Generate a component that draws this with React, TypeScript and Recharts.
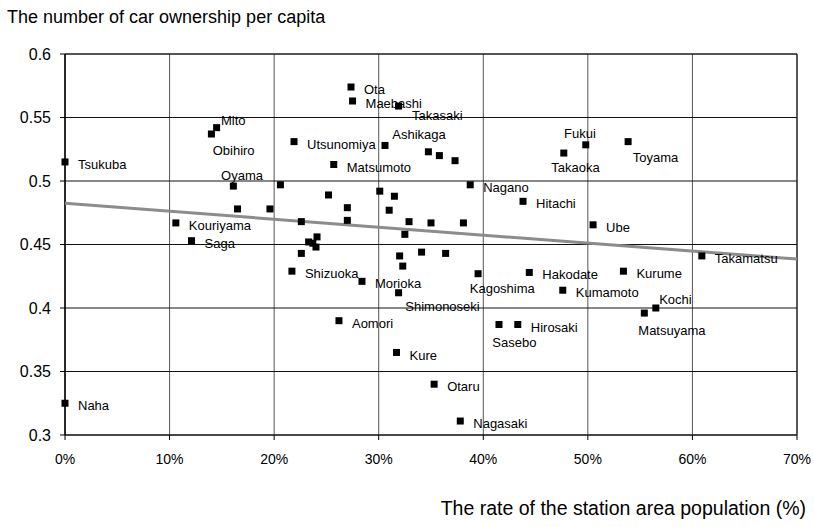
import { ScatterChart, Scatter, XAxis, YAxis, CartesianGrid, ReferenceLine } from 'recharts';

// city labels ('' = unlabelled point)
const CITIES = [
  'Tsukuba', 'Naha', 'Kouriyama', 'Saga', 'Obihiro', 'Mito', 'Oyama', '', '', '',
  'Utsunomiya', 'Shizuoka', '', '', '', '', '', '', '', 'Matsumoto',
  'Aomori', '', '', 'Ota', 'Maebashi', 'Morioka', '', 'Ashikaga', '', '',
  'Takasaki', 'Shimonoseki', 'Kure', '', '', '', '', '', '', '',
  'Otaru', '', '', '', 'Nagasaki', '', 'Nagano', 'Kagoshima', 'Sasebo', 'Hirosaki',
  'Hitachi', 'Hakodate', 'Kumamoto', 'Takaoka', 'Fukui', 'Ube', 'Kurume', 'Toyama', 'Matsuyama', 'Kochi',
  'Takamatsu',
];

// rate of the station area population (%)
const RATE = [
  0, 0, 10.6, 12.1, 14.0, 14.5, 16.1, 16.5, 19.6, 20.6,
  21.9, 21.7, 22.6, 22.6, 23.3, 23.7, 24.0, 24.1, 25.2, 25.7,
  26.2, 27.0, 27.0, 27.35, 27.5, 28.4, 30.1, 30.6, 31.0, 31.5,
  31.9, 31.9, 31.7, 32.0, 32.3, 32.5, 32.9, 34.1, 34.75, 35.0,
  35.3, 35.8, 36.4, 37.3, 37.8, 38.1, 38.75, 39.5, 41.5, 43.3,
  43.8, 44.4, 47.6, 47.7, 49.8, 50.5, 53.4, 53.85, 55.4, 56.5,
  60.9,
];

// car ownership per capita
const CARS = [
  0.515, 0.325, 0.467, 0.453, 0.537, 0.542, 0.496, 0.478, 0.478, 0.497,
  0.531, 0.429, 0.468, 0.443, 0.452, 0.451, 0.448, 0.456, 0.489, 0.513,
  0.39, 0.479, 0.469, 0.574, 0.563, 0.421, 0.492, 0.528, 0.477, 0.488,
  0.559, 0.412, 0.365, 0.441, 0.433, 0.458, 0.468, 0.444, 0.523, 0.467,
  0.34, 0.52, 0.443, 0.516, 0.311, 0.467, 0.497, 0.427, 0.387, 0.387,
  0.484, 0.428, 0.414, 0.522, 0.5285, 0.4655, 0.429, 0.531, 0.396, 0.4,
  0.441,
];

// linear trend line end points
const TREND_RATE = [0, 70];
const TREND_CARS = [0.4825, 0.4385];

const X_TICKS = [0, 10, 20, 30, 40, 50, 60, 70];
const Y_TICKS = [0.3, 0.35, 0.4, 0.45, 0.5, 0.55, 0.6];

// label placement relative to marker [dx, dy], default is to the right
const LABEL_OFFSETS: Record<string, [number, number]> = {
  Mito: [4.4, -7.7],
  Obihiro: [1.3, 16.7],
  Oyama: [-12.3, -11],
  Takasaki: [13.4, 9.3],
  Ashikaga: [7.3, -11],
  Fukui: [-21.7, -11.7],
  Takaoka: [-12.6, 14.4],
  Toyama: [4.6, 15.4],
  Kochi: [3.3, -8.3],
  Matsuyama: [-6, 17.3],
  Sasebo: [-6.6, 17.7],
  Kagoshima: [-8.3, 14.3],
  Shimonoseki: [6.7, 13.3],
};

const points = CITIES.map((city, i) => ({ city, rate: RATE[i], cars: CARS[i] }));
const trend = TREND_RATE.map((rate, i) => ({ rate, cars: TREND_CARS[i] }));

const FONT = '"Liberation Sans", Arial, sans-serif';

function CityMarker(props: any) {
  const { cx, cy, payload } = props;
  const [dx, dy] = LABEL_OFFSETS[payload.city] ?? [13, 2.5];
  return (
    <g>
      <rect x={cx - 3.5} y={cy - 3.5} width={7} height={7} fill="#000" />
      {payload.city && (
        <text x={cx + dx} y={cy + dy} dy="0.35em" fontSize={13} fontFamily={FONT} fill="#000">
          {payload.city}
        </text>
      )}
    </g>
  );
}

export default function App() {
  return (
    <div style={{ position: 'relative', width: 814, height: 527, background: '#fff', fontFamily: FONT }}>
      <style>{'body { margin: 0; }'}</style>
      <div style={{ position: 'absolute', left: 7, top: 8, fontSize: 18, lineHeight: '18px', color: '#000', whiteSpace: 'nowrap' }}>
        The number of car ownership per capita
      </div>
      <div style={{ position: 'absolute', right: 8, top: 499, fontSize: 19.5, lineHeight: '19.5px', color: '#000', whiteSpace: 'nowrap' }}>
        The rate of the station area population (%)
      </div>
      <ScatterChart width={814} height={527} margin={{ top: 54, right: 17, bottom: 62, left: 0 }}>
        <CartesianGrid horizontal={false} stroke="#555" strokeWidth={1} />
        <CartesianGrid vertical={false} stroke="#111" strokeWidth={1} />
        <XAxis
          type="number"
          dataKey="rate"
          domain={[0, 70]}
          ticks={X_TICKS}
          tickFormatter={(v: number) => `${v}%`}
          height={30}
          tickSize={5}
          tickMargin={14}
          axisLine={{ stroke: '#333', strokeWidth: 1.5 }}
          tickLine={{ stroke: '#000' }}
          tick={{ fill: '#000', fontSize: 14, fontFamily: FONT }}
        />
        <YAxis
          type="number"
          dataKey="cars"
          domain={[0.3, 0.6]}
          ticks={Y_TICKS}
          tickFormatter={(v: number) => String(+v.toFixed(2))}
          width={65}
          tickSize={5}
          tickMargin={9}
          axisLine={{ stroke: '#000', strokeWidth: 1.5 }}
          tickLine={{ stroke: '#000' }}
          tick={{ fill: '#000', fontSize: 16, fontFamily: FONT }}
        />
        {/* top and right frame lines */}
        <ReferenceLine y={0.6} stroke="#222" strokeWidth={1.2} ifOverflow="visible" />
        <ReferenceLine x={70} stroke="#222" strokeWidth={1.2} ifOverflow="visible" />
        <Scatter
          data={trend}
          line={{ stroke: '#8c8c8c', strokeWidth: 3 }}
          shape={() => <g />}
          isAnimationActive={false}
        />
        <Scatter data={points} shape={CityMarker} isAnimationActive={false} />
      </ScatterChart>
    </div>
  );
}
